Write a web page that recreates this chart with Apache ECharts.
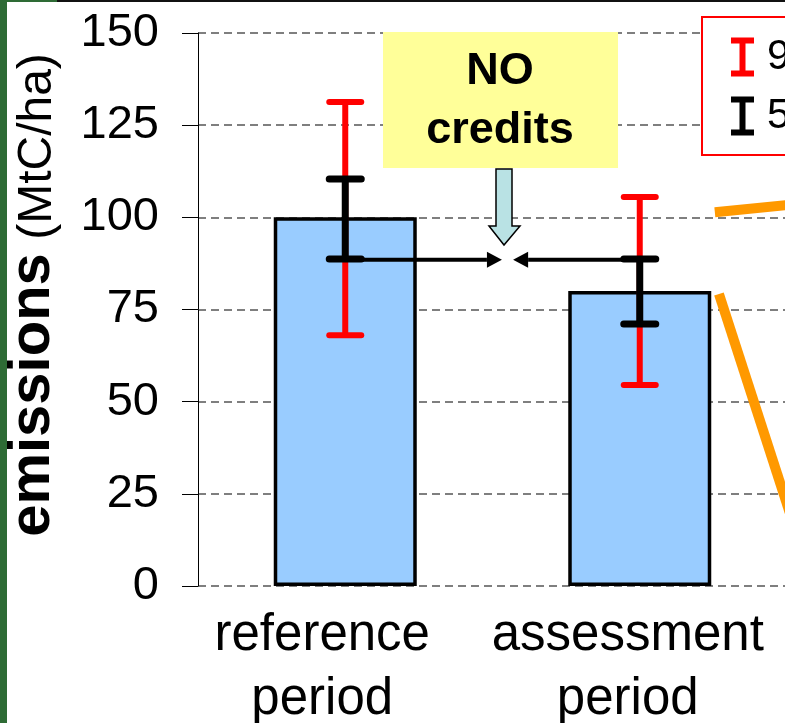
<!DOCTYPE html>
<html><head><meta charset="utf-8">
<script src="https://cdn.jsdelivr.net/npm/echarts@6/dist/echarts.min.js"></script>
<style>html,body{margin:0;padding:0;background:#fff;overflow:hidden}#c{width:785px;height:723px}</style>
</head><body><div id="c"></div>
<script>
// ---- data ----
const categories = ['reference\nperiod', 'assessment\nperiod', ''];
const emissions = [100, 80, '-'];
const ci95Low = [68, 54.5];
const ci95High = [131.3, 105.5];
const ci50Low = [88.7, 71.1];
const ci50High = [110.4, 88.7];
const yMin = 0, yMax = 150, yStep = 25;
// orange projection lines (x in category-band units, y in MtC/ha)
const projUpX = [1.755, 2.5];
const projUpY = [101.4, 107.3];
const projDownX = [1.769, 2.09];
const projDownY = [79.2, 0];
// "no credits" comparison arrows
const arrowFromX = [0.5, 1.5];
const arrowToX = [1.032, 1.07];
const arrowY = [88.5, 88.5];
const legendNames = ['95%', '50%'];

const FONT = '"Liberation Sans", Arial, sans-serif';
const labelShift = [46, 24, 0]; // right padding, shifts centred labels left

function errData(lo, hi) { return lo.map((v, i) => [i, v, hi[i]]); }
function errRender(color, w) {
  return function (params, api) {
    const x = api.value(0);
    const lo = api.coord([x, api.value(1)]);
    const hi = api.coord([x, api.value(2)]);
    const h = 16;
    const st = { stroke: color, lineWidth: w, lineCap: 'round' };
    return { type: 'group', children: [
      { type: 'line', shape: { x1: lo[0], y1: lo[1], x2: hi[0], y2: hi[1] }, style: { stroke: color, lineWidth: w } },
      { type: 'line', shape: { x1: lo[0] - h, y1: lo[1], x2: lo[0] + h, y2: lo[1] }, style: st },
      { type: 'line', shape: { x1: hi[0] - h, y1: hi[1], x2: hi[0] + h, y2: hi[1] }, style: st }
    ]};
  };
}

const chart = echarts.init(document.getElementById('c'), null, { renderer: 'canvas' });
chart.setOption({
  animation: false,
  backgroundColor: '#fff',
  grid: { left: 198, top: 33, width: 883.5, height: 553, outerBoundsMode: 'none', containLabel: false },
  legend: {
    orient: 'vertical', left: 702, top: 17,
    padding: [19, 40, 18, 29], itemGap: 17,
    itemWidth: 23, itemHeight: 39,
    borderColor: '#ff0000', borderWidth: 2, backgroundColor: '#fff',
    textStyle: { fontFamily: FONT, fontSize: 42, color: '#000', lineHeight: 21, padding: [18, 0, 0, 8] },
    data: [
      { name: legendNames[0], icon: 'path://M0,0H23V6H14.5V33H23V39H0V33H8.5V6H0Z' },
      { name: legendNames[1], icon: 'path://M0,0H23V6H14.5V33H23V39H0V33H8.5V6H0Z' }
    ]
  },
  xAxis: [
    { type: 'category', gridIndex: 0,
      data: categories.map((c, i) => ({ value: c, textStyle: { padding: [0, labelShift[i], 0, 0] } })),
      axisLine: { show: false }, axisTick: { show: false },
      axisLabel: { interval: 0, fontFamily: FONT, fontSize: 51, color: '#000', lineHeight: 64, margin: 18 } },
    { type: 'value', min: 0, max: 3, show: false, gridIndex: 0 }
  ],
  yAxis: {
    type: 'value', min: yMin, max: yMax, interval: yStep,
    axisLine: { show: true, lineStyle: { color: '#000', width: 1 } },
    axisTick: { show: true, length: 16, lineStyle: { color: '#000', width: 1 } },
    axisLabel: { fontFamily: FONT, fontSize: 47, color: '#000', margin: 39 },
    splitLine: { show: true, lineStyle: { color: '#555', width: 1.5, type: [8, 5] } }
  },
  series: [
    { type: 'bar', name: 'emissions', data: emissions, barWidth: 143, z: 2,
      itemStyle: { color: '#99ccff', borderColor: '#000', borderWidth: 3.5 } },
    { type: 'line', name: 'projUp', xAxisIndex: 1, data: projUpX.map((x, i) => [x, projUpY[i]]),
      symbol: 'none', lineStyle: { color: '#ff9900', width: 10 }, z: 3 },
    { type: 'line', name: 'projDown', xAxisIndex: 1, data: projDownX.map((x, i) => [x, projDownY[i]]),
      symbol: 'none', lineStyle: { color: '#ff9900', width: 10 }, z: 3 },
    { type: 'custom', name: legendNames[0], xAxisIndex: 0, data: errData(ci95Low, ci95High),
      encode: { x: 0, y: [1, 2] }, itemStyle: { color: '#ff0000' }, renderItem: errRender('#ff0000', 6), z: 4 },
    { type: 'custom', name: 'arrows', xAxisIndex: 1,
      data: arrowFromX.map((x, i) => [x, arrowToX[i], arrowY[i]]),
      encode: { x: [0, 1], y: 2 }, z: 5,
      renderItem: function (params, api) {
        const a = api.coord([api.value(0), api.value(2)]);
        const b = api.coord([api.value(1), api.value(2)]);
        const dir = b[0] > a[0] ? 1 : -1;
        const L = 15, H = 8;
        const bx = b[0] - dir * L;
        return { type: 'group', children: [
          { type: 'line', shape: { x1: a[0], y1: a[1], x2: bx, y2: b[1] }, style: { stroke: '#000', lineWidth: 4 } },
          { type: 'polygon', shape: { points: [[b[0], b[1]], [bx, b[1] - H], [bx, b[1] + H]] }, style: { fill: '#000' } }
        ]};
      } },
    { type: 'custom', name: legendNames[1], xAxisIndex: 0, data: errData(ci50Low, ci50High),
      encode: { x: 0, y: [1, 2] }, itemStyle: { color: '#000000' }, renderItem: errRender('#000000', 7), z: 6 }
  ],
  graphic: [
    { type: 'rect', shape: { x: 0, y: 0, width: 7, height: 723 }, style: { fill: '#2e6b35' }, z: 100 },
    { type: 'rect', shape: { x: 0, y: 0, width: 57, height: 2 }, style: { fill: '#2e6b35' }, z: 100 },
    { type: 'rect', shape: { x: 57, y: 0, width: 728, height: 2 }, style: { fill: '#111' }, z: 100 },
    { type: 'rect', shape: { x: 383, y: 32, width: 235, height: 136 }, style: { fill: '#ffff99' }, z: 50 },
    { type: 'text', x: 500, y: 101, z: 51,
      style: { text: 'NO\ncredits', fontFamily: FONT, fontWeight: 'bold', fontSize: 45, lineHeight: 59,
               fill: '#000', align: 'center', verticalAlign: 'middle' } },
    { type: 'polygon', z: 51,
      shape: { points: [[496, 169], [512, 169], [512, 226], [520, 226], [504, 245], [489, 226], [496, 226]] },
      style: { fill: '#b9e2e4', stroke: '#000', lineWidth: 1.5 } },
    { type: 'text', x: 33, y: 295, rotation: Math.PI / 2, z: 51,
      style: { text: '{b|emissions}{r| (MtC/ha)}', align: 'center', verticalAlign: 'middle', fill: '#000',
               rich: { b: { fontFamily: FONT, fontWeight: 'bold', fontSize: 58, verticalAlign: 'bottom' },
                       r: { fontFamily: FONT, fontSize: 48, verticalAlign: 'bottom' } } } }
  ]
});
</script>
</body></html>
